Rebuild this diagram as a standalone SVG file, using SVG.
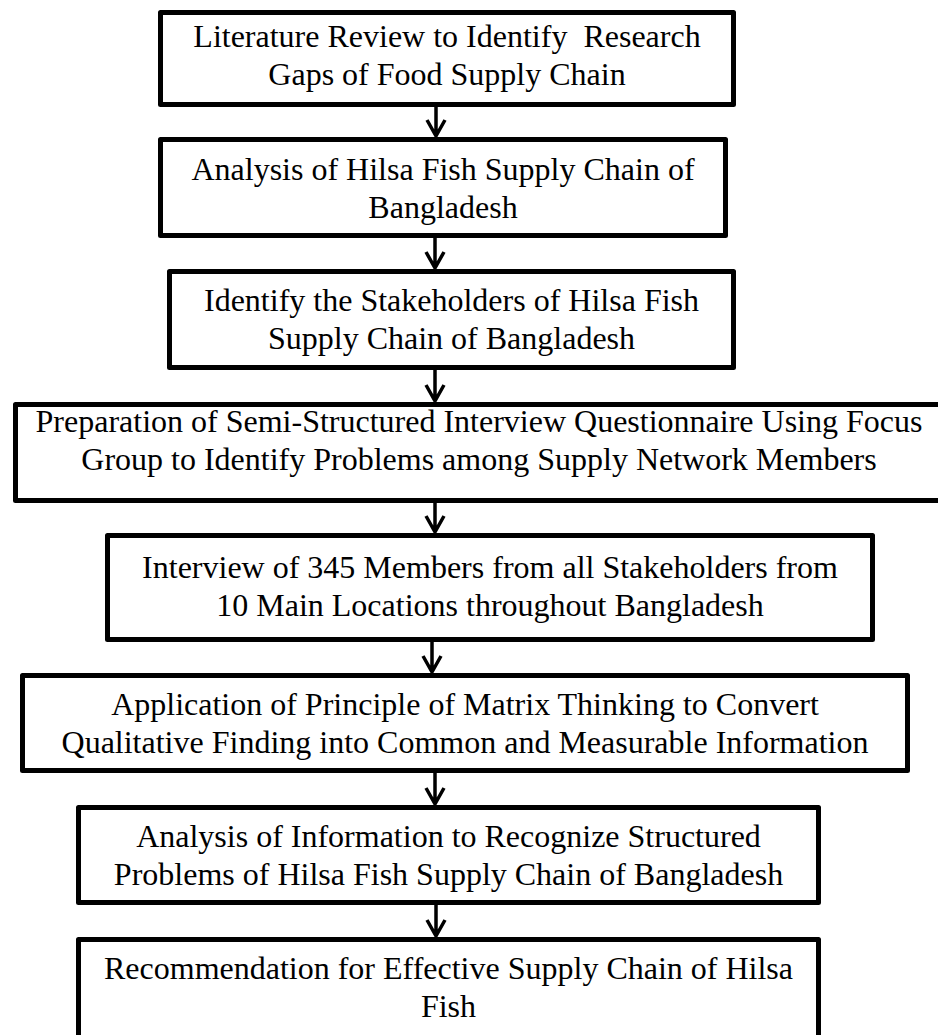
<svg xmlns="http://www.w3.org/2000/svg" width="938" height="1035" viewBox="0 0 938 1035">
<style>
.box{fill:#fff;stroke:#000;stroke-width:5;stroke-linejoin:round}
.t{font-family:"Liberation Serif","Times New Roman",serif;font-size:32px;fill:#000;text-anchor:middle}
.arr{fill:none;stroke:#000;stroke-width:3.5;stroke-linecap:butt;stroke-linejoin:miter}
</style>
<rect x="0" y="0" width="938" height="1035" fill="#fff"/>
<g id="n1"><rect class="box" x="160.5" y="12.5" width="573" height="92"/>
<text class="t" x="447" y="47" xml:space="preserve">Literature Review to Identify  Research</text>
<text class="t" x="447" y="85">Gaps of Food Supply Chain</text></g>
<g id="n2"><rect class="box" x="160.5" y="139.5" width="565" height="96"/>
<text class="t" x="443" y="180">Analysis of Hilsa Fish Supply Chain of</text>
<text class="t" x="443" y="218">Bangladesh</text></g>
<g id="n3"><rect class="box" x="169.5" y="271.5" width="564" height="96"/>
<text class="t" x="451.5" y="311">Identify the Stakeholders of Hilsa Fish</text>
<text class="t" x="451.5" y="349">Supply Chain of Bangladesh</text></g>
<g id="n4"><rect class="box" x="15.5" y="404.5" width="927" height="96"/>
<text class="t" x="479" y="432">Preparation of Semi-Structured Interview Questionnaire Using Focus</text>
<text class="t" x="479" y="470">Group to Identify Problems among Supply Network Members</text></g>
<g id="n5"><rect class="box" x="107.5" y="535.5" width="765" height="104"/>
<text class="t" x="490" y="578">Interview of 345 Members from all Stakeholders from</text>
<text class="t" x="490" y="616">10 Main Locations throughout Bangladesh</text></g>
<g id="n6"><rect class="box" x="22.5" y="675.5" width="885" height="95"/>
<text class="t" x="465" y="715">Application of Principle of Matrix Thinking to Convert</text>
<text class="t" x="465" y="753">Qualitative Finding into Common and Measurable Information</text></g>
<g id="n7"><rect class="box" x="78.5" y="807.5" width="740" height="95"/>
<text class="t" x="448.5" y="847">Analysis of Information to Recognize Structured</text>
<text class="t" x="448.5" y="885">Problems of Hilsa Fish Supply Chain of Bangladesh</text></g>
<g id="n8"><rect class="box" x="78.5" y="939.5" width="740" height="110"/>
<text class="t" x="448.5" y="979">Recommendation for Effective Supply Chain of Hilsa</text>
<text class="t" x="448.5" y="1017">Fish</text></g>
<g id="connectors">
<path class="arr" d="M436 107V136M427 120L436 136L445 120"/>
<path class="arr" d="M435 238V268M426 252L435 268L444 252"/>
<path class="arr" d="M435 370V401M426 385L435 401L444 385"/>
<path class="arr" d="M435 503V532M426 516L435 532L444 516"/>
<path class="arr" d="M432 642V672M423 656L432 672L441 656"/>
<path class="arr" d="M435 773V804M426 788L435 804L444 788"/>
<path class="arr" d="M436 905V936M427 920L436 936L445 920"/>
</g>
</svg>
